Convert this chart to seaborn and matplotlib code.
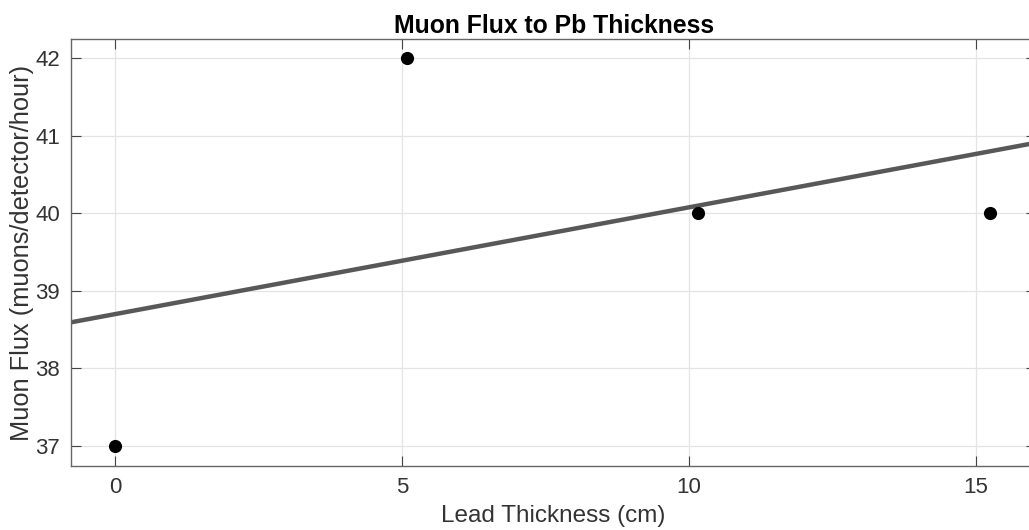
import numpy as np
import pandas as pd
import matplotlib
matplotlib.use("Agg")
import matplotlib.pyplot as plt
import seaborn as sns

thickness = [0.0, 5.08, 10.16, 15.24]
flux = [37, 42, 40, 40]
x_ticks = [0, 5, 10, 15]
y_ticks = [37, 38, 39, 40, 41, 42]

sns.set_theme(style="white")
plt.rcParams['font.family'] = ['Liberation Sans', 'DejaVu Sans']

df = pd.DataFrame({"x": thickness, "y": flux})
slope, intercept = np.polyfit(df["x"], df["y"], 1)
xlim = (-0.77, 16.05)
fit = pd.DataFrame({"x": list(xlim)})
fit["y"] = intercept + slope * fit["x"]

fig = plt.figure(figsize=(10.29, 5.30), dpi=100)
ax = fig.add_axes([0.069, 0.1208, 0.938, 0.8056])

ax.grid(True, color="#e4e4e4", linewidth=0.9)
ax.set_axisbelow(True)

sns.lineplot(data=fit, x="x", y="y", ax=ax, color="#585858", linewidth=3.2, zorder=2)
sns.scatterplot(data=df, x="x", y="y", ax=ax, color="black", s=90, edgecolor="black", linewidth=0, zorder=3)

ax.set_xlim(*xlim)
ax.set_ylim(36.74, 42.25)
ax.set_xticks(x_ticks)
ax.set_yticks(y_ticks)
ax.tick_params(direction="in", length=7, width=0.8, color="#444444",
               labelsize=16, labelcolor="#333333", top=True, right=True,
               bottom=True, left=True, pad=8)
for s in ax.spines.values():
    s.set_color("#666666")
    s.set_linewidth(1.0)

ax.set_xlabel("Lead Thickness (cm)", fontsize=17.5, color="#333333", labelpad=5)
ax.set_ylabel("Muon Flux (muons/detector/hour)", fontsize=18.3, color="#333333")
ax.yaxis.set_label_coords(-0.038, 0.5)
ax.set_title("Muon Flux to Pb Thickness", fontsize=17.8, fontweight="bold", color="black", pad=4)

fig.savefig("out.png", dpi=100)
